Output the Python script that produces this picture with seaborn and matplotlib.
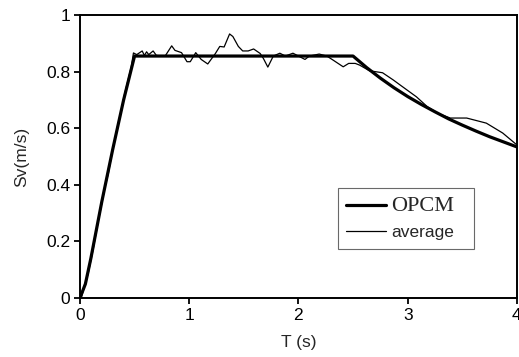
import matplotlib
matplotlib.use("Agg")
import matplotlib.pyplot as plt
import seaborn as sns
import pandas as pd

# OPCM design spectrum
opcm_T = [0, 0.05, 0.1, 0.2, 0.3, 0.4, 0.5, 2.5, 2.625, 2.75, 2.875, 3.0, 3.125,
          3.25, 3.375, 3.5, 3.625, 3.75, 3.875, 4.0]
opcm_Sv = [0, 0.05, 0.14, 0.34, 0.525, 0.70, 0.855, 0.855, 0.814, 0.777, 0.743,
           0.712, 0.684, 0.658, 0.633, 0.611, 0.590, 0.570, 0.552, 0.534]

# average spectrum
avg_T = [0, 0.015, 0.076, 0.12, 0.17, 0.23, 0.26, 0.305, 0.35, 0.38, 0.41, 0.44,
         0.47, 0.49, 0.52, 0.57, 0.59, 0.61, 0.63, 0.67, 0.70, 0.78, 0.84, 0.87,
         0.93, 0.98, 1.01, 1.06, 1.11, 1.17, 1.24, 1.28, 1.32, 1.37, 1.40, 1.45,
         1.49, 1.54, 1.59, 1.65, 1.68, 1.72, 1.77, 1.83, 1.88, 1.95, 2.0, 2.06,
         2.1, 2.19, 2.26, 2.32, 2.41, 2.46, 2.52, 2.56, 2.65, 2.77, 2.87, 2.93,
         3.08, 3.18, 3.28, 3.39, 3.54, 3.72, 3.87, 4.0]
avg_Sv = [0, 0.005, 0.087, 0.17, 0.276, 0.393, 0.44, 0.535, 0.617, 0.664, 0.723,
          0.77, 0.817, 0.866, 0.86, 0.873, 0.857, 0.87, 0.86, 0.873, 0.857, 0.855,
          0.891, 0.875, 0.867, 0.835, 0.835, 0.867, 0.843, 0.827, 0.864, 0.889,
          0.887, 0.933, 0.924, 0.889, 0.873, 0.873, 0.880, 0.864, 0.846, 0.816,
          0.855, 0.865, 0.855, 0.865, 0.855, 0.843, 0.855, 0.862, 0.855, 0.84,
          0.817, 0.829, 0.829, 0.823, 0.803, 0.796, 0.77, 0.753, 0.711, 0.676,
          0.652, 0.636, 0.636, 0.618, 0.583, 0.541]

sns.set_style("ticks")
plt.rcParams['font.family'] = ['Liberation Sans', 'DejaVu Sans']

fig = plt.figure(figsize=(5.19, 3.57), dpi=100)
ax = fig.add_axes([0.154, 0.165, 0.842, 0.793])

df_o = pd.DataFrame({"T": opcm_T, "Sv": opcm_Sv})
df_a = pd.DataFrame({"T": avg_T, "Sv": avg_Sv})
sns.lineplot(data=df_o, x="T", y="Sv", ax=ax, color="black", linewidth=2.3,
             label="OPCM", sort=False, estimator=None)
sns.lineplot(data=df_a, x="T", y="Sv", ax=ax, color="black", linewidth=0.9,
             label="average", sort=False, estimator=None)

ax.set_xlim(0, 4)
ax.set_ylim(0, 1)
ax.set_xticks([0, 1, 2, 3, 4])
ax.set_xticklabels(["0", "1", "2", "3", "4"])
ax.set_yticks([0, 0.2, 0.4, 0.6, 0.8, 1])
ax.set_yticklabels(["0", "0.2", "0.4", "0.6", "0.8", "1"])
ax.tick_params(axis="both", labelsize=12.5, direction="out", length=4, width=1.3,
               color="black", labelcolor="black", pad=3)
for s in ax.spines.values():
    s.set_visible(True)
    s.set_linewidth(1.4)
    s.set_color("black")

ax.set_xlabel("T (s)", fontsize=12.5, labelpad=9)
ax.set_ylabel("Sv(m/s)", fontsize=12.5, labelpad=12)

leg = ax.legend(loc="lower left", bbox_to_anchor=(0.59, 0.173, 0.312, 0.219),
                mode="expand", frameon=True, fancybox=False, handlelength=2.3,
                handletextpad=0.3, borderpad=0.5, labelspacing=0.55,
                borderaxespad=0, fontsize=12.5)
leg.get_frame().set_edgecolor("#444444")
leg.get_frame().set_linewidth(0.8)
texts = leg.get_texts()
texts[0].set_fontfamily("Liberation Serif")
texts[0].set_fontsize(16)
texts[1].set_fontsize(12.5)

fig.savefig("out.png", dpi=100)
